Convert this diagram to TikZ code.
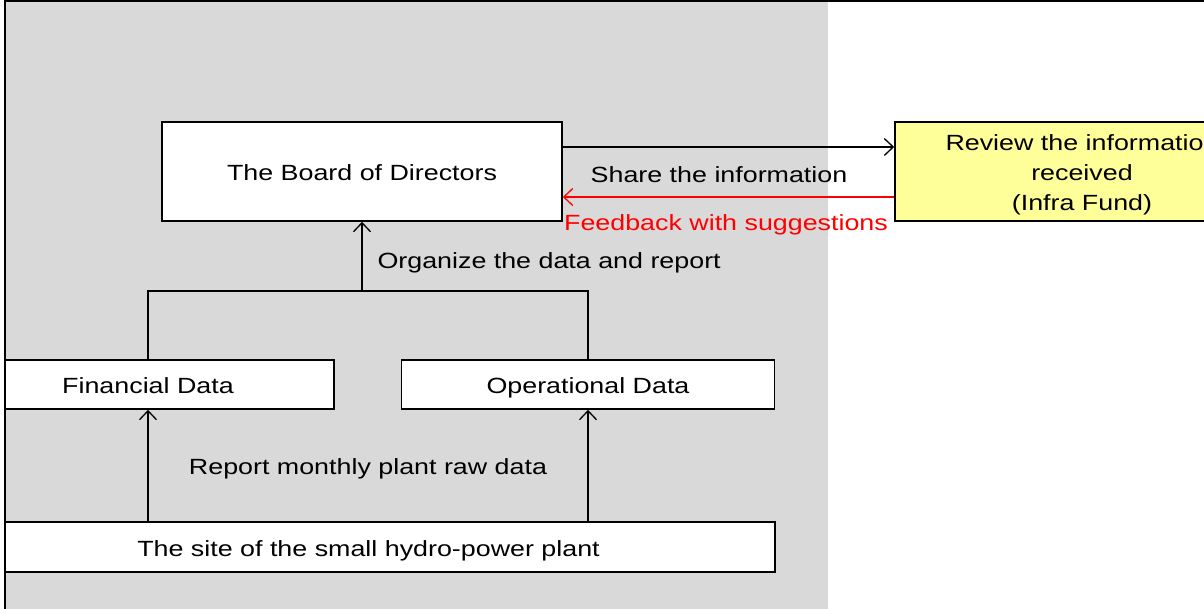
\documentclass[tikz,border=0pt]{standalone}
\usepackage{fontspec}
\setmainfont{Liberation Sans}[FakeStretch=1.22]
\usetikzlibrary{arrows.meta,positioning}
\definecolor{panel}{HTML}{D9D9D9}
\definecolor{note}{HTML}{FFFF99}

\begin{document}
\begin{tikzpicture}[x=1pt,y=-1pt,
    font=\fontsize{22}{30}\selectfont,
    frame/.style={draw,line width=1.6pt,fill=white,inner sep=0pt,minimum height=49pt},
    box/.style={frame,text height=18pt,text depth=0pt},
    link/.style={line width=1.3pt},
    tip/.style={-{Straight Barb[length=9pt,width=17pt,line width=1.3pt]}}]
    \useasboundingbox (0,0) rectangle (1204,609);
    \begin{scope}
        \clip (5,1) rectangle (1204,609);
        \fill[panel] (5,1) rectangle (828,609);
        % boxes
        \node[box,minimum width=400pt,minimum height=99pt] (board) at (362,171.5) {The Board of Directors};
        \node[frame,fill=note,minimum width=374pt,minimum height=99pt,align=center] (review) at (1082,171.5) {\\[-7pt]Review the information\\received\\(Infra Fund)};
        \node[box,minimum width=372pt] (fin) at (148,384.5) {Financial Data};
        \node[box,minimum width=373pt] (ops) at (588,384.5) {Operational Data};
        \node[box,minimum width=813pt,minimum height=50pt] (site) at (368.5,547) {The site of the small hydro-power plant};
        % connectors
        \coordinate (fork) at (362,291);
        \draw[link,tip] (fin.south |- site.north) -- (fin.south);
        \draw[link,tip] (ops.south |- site.north) -- (ops.south);
        \draw[link] (fin.north) |- (fork) -| (ops.north);
        \draw[link,tip] (fork) -- (board.south);
        \draw[link,tip] ([yshift=24.5pt]board.east) -- ([yshift=24.5pt]review.west);
        \draw[link,tip,red] ([yshift=-25.5pt]review.west) -- ([yshift=-25.5pt]board.east);
        % labels
        \node (share) at (719,175) {Share the information};
        \node[red] (feedback) at (726,225) {Feedback with suggestions};
        \node[anchor=west] (organize) at (374,263) {Organize the data and report};
        \node (report) at (368,469) {Report monthly plant raw data};
    \end{scope}
    \draw[line width=1.6pt] (1204,1) -- (5,1) -- (5,609);
\end{tikzpicture}
\end{document}
